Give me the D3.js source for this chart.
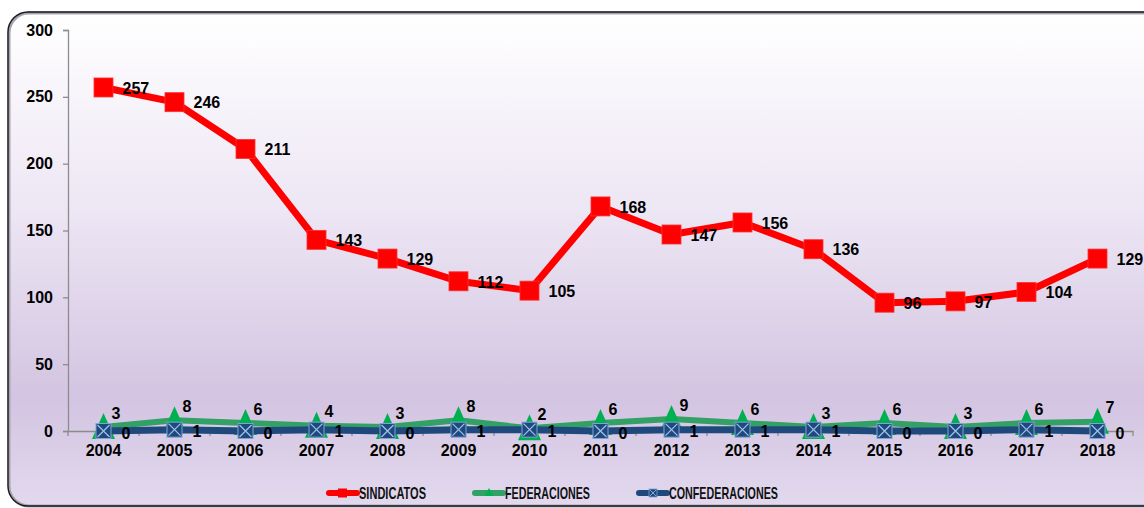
<!DOCTYPE html>
<html><head><meta charset="utf-8">
<script src="https://cdn.jsdelivr.net/npm/d3@7/dist/d3.min.js"></script>
<style>
html,body{margin:0;padding:0;background:#fff;}
svg{display:block;font-family:Arial,"Liberation Sans",sans-serif;}
</style></head>
<body>
<svg id="c" width="1144" height="508"></svg>
<script>
const years = ["2004","2005","2006","2007","2008","2009","2010","2011","2012","2013","2014","2015","2016","2017","2018"];
const sindicatos = [257,246,211,143,129,112,105,168,147,156,136,96,97,104,129];
const federaciones = [3,8,6,4,3,8,2,6,9,6,3,6,3,6,7];
const confederaciones = [0,1,0,1,0,1,1,0,1,1,1,0,0,1,0];
const yTicks = [0,50,100,150,200,250,300];
const seriesNames = ["SINDICATOS","FEDERACIONES","CONFEDERACIONES"];

const svg = d3.select("#c");
const defs = svg.append("defs");
const g1 = defs.append("linearGradient").attr("id","bg").attr("x1",0).attr("y1",0).attr("x2",0).attr("y2",1);
g1.append("stop").attr("offset","0").attr("stop-color","#ffffff");
g1.append("stop").attr("offset","0.4").attr("stop-color","#ede6f4");
g1.append("stop").attr("offset","0.78").attr("stop-color","#d3c4e1");
g1.append("stop").attr("offset","1").attr("stop-color","#e2d9ee");

// frame
svg.append("rect").attr("x",9).attr("y",13).attr("width",1170).attr("height",493).attr("rx",20)
  .attr("fill","url(#bg)").attr("stroke","#a8a1b1").attr("stroke-width",3);
svg.append("rect").attr("x",8).attr("y",12).attr("width",1170).attr("height",494).attr("rx",20)
  .attr("fill","none").attr("stroke","#1a1a1a").attr("stroke-width",1.4);

const x = d3.scaleBand().domain(years).range([68,1133]).padding(0);
const y = d3.scaleLinear().domain([0,300]).range([431,30]);
const cx = d => x(d) + x.bandwidth()/2;
const FS = 16;

// y axis
const ya = svg.append("g").attr("transform","translate(68,0)")
  .call(d3.axisLeft(y).tickValues(yTicks).tickSize(5).tickPadding(10));
ya.select(".domain").attr("stroke","#8c8c8c").attr("stroke-width",1.3);
ya.selectAll(".tick line").attr("stroke","#8c8c8c").attr("stroke-width",1.3);
ya.selectAll("text").attr("font-size",FS).attr("font-weight","bold").attr("fill","#000")
  .attr("font-family","Arial,'Liberation Sans',sans-serif");

// x axis
const xa = svg.append("g").attr("transform","translate(0,431)")
  .call(d3.axisBottom(x).tickSize(0).tickPadding(14));
xa.select(".domain").attr("stroke","#8c8c8c").attr("stroke-width",1.3);
xa.selectAll("text").attr("font-size",FS).attr("font-weight","bold").attr("fill","#000")
  .attr("font-family","Arial,'Liberation Sans',sans-serif");
const bounds = years.map(d => x(d)).concat([x(years[years.length-1]) + x.bandwidth()]);
xa.selectAll("line.b").data(bounds).enter().append("line").attr("class","b")
  .attr("x1",d=>d).attr("x2",d=>d).attr("y1",0).attr("y2",5)
  .attr("stroke","#8c8c8c").attr("stroke-width",1.3);

const line = arr => d3.line().x((d,i)=>cx(years[i])).y(d=>y(d))(arr);

// red series
svg.append("path").attr("d",line(sindicatos)).attr("fill","none").attr("stroke","#ff0000").attr("stroke-width",7).attr("stroke-linejoin","round");
svg.selectAll("rect.s").data(sindicatos).enter().append("rect").attr("class","s")
  .attr("x",(d,i)=>cx(years[i])-9.5).attr("y",d=>y(d)-9.5).attr("width",19).attr("height",19)
  .attr("fill","#ff0000").attr("stroke","#ff3030").attr("stroke-width",0.8);

// green series
svg.append("path").attr("d",line(federaciones)).attr("fill","none").attr("stroke","#33a065").attr("stroke-width",6).attr("stroke-linejoin","round");
svg.selectAll("path.f").data(federaciones).enter().append("path").attr("class","f")
  .attr("d",(d,i)=>{const px=cx(years[i]), py=y(d); return `M${px},${py-14}L${px+11.5},${py+12}L${px-11.5},${py+12}Z`;})
  .attr("fill","#00b050");

// blue series
svg.append("path").attr("d",line(confederaciones)).attr("fill","none").attr("stroke","#1f497d").attr("stroke-width",7).attr("stroke-linejoin","round");
const cg = svg.selectAll("g.cf").data(confederaciones).enter().append("g").attr("class","cf")
  .attr("transform",(d,i)=>`translate(${cx(years[i])},${y(d)})`);
cg.append("rect").attr("x",-7.5).attr("y",-7.5).attr("width",15).attr("height",15)
  .attr("fill","#1f497d").attr("stroke","#7ea4d6").attr("stroke-width",1);
cg.append("path").attr("d","M-6,-6L6,6M6,-6L-6,6").attr("stroke","#9cc0ea").attr("stroke-width",1.3);

// labels
const lab = (arr, cls, dx, dy) => svg.selectAll("text."+cls).data(arr).enter().append("text").attr("class",cls)
  .attr("x",(d,i)=>cx(years[i])+dx).attr("y",d=>y(d)+dy).attr("dy","0.36em")
  .attr("font-size",FS).attr("font-weight","bold").attr("fill","#000").text(d=>d);
lab(sindicatos,"ls",19,0.5);
lab(federaciones,"lf",8,-14);
lab(confederaciones,"lc",18,2);

// legend
const legColors = ["#ff0000","#33a065","#1f497d"];
const legX = [329,475,639];
const legW = [67,85,109];
const lg = svg.selectAll("g.lg").data(seriesNames).enter().append("g").attr("class","lg")
  .attr("transform",(d,i)=>`translate(${legX[i]},493)`);
lg.append("line").attr("x1",0).attr("x2",28).attr("y1",0).attr("y2",0)
  .attr("stroke",(d,i)=>legColors[i]).attr("stroke-width",6).attr("stroke-linecap","round");
lg.filter((d,i)=>i===0).append("rect").attr("x",9).attr("y",-4.5).attr("width",9).attr("height",9).attr("fill","#ff0000");
lg.filter((d,i)=>i===1).append("path").attr("d","M14,-5L18.5,3L9.5,3Z").attr("fill","#00b050");
lg.filter((d,i)=>i===2).append("rect").attr("x",10).attr("y",-4).attr("width",8).attr("height",8).attr("fill","#1f497d").attr("stroke","#7ea4d6").attr("stroke-width",0.8);
lg.filter((d,i)=>i===2).append("path").attr("d","M11,-3L17,3M17,-3L11,3").attr("stroke","#9cc0ea").attr("stroke-width",0.8);
lg.append("text").attr("x",30).attr("y",0).attr("dy","0.36em").attr("font-size",17).attr("font-weight","bold")
  .attr("fill","#111").attr("textLength",(d,i)=>legW[i]).attr("lengthAdjust","spacingAndGlyphs").text(d=>d);
</script>
</body></html>
